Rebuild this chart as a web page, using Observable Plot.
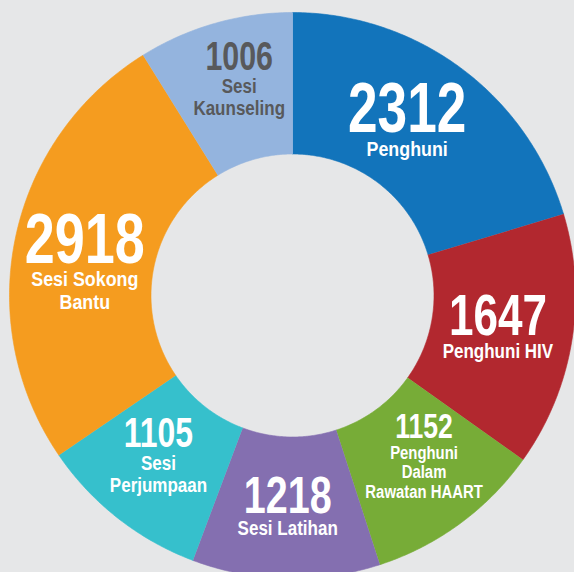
<!DOCTYPE html>
<html><head><meta charset="utf-8">
<script src="https://cdn.jsdelivr.net/npm/d3@7"></script>
<script src="https://cdn.jsdelivr.net/npm/@observablehq/plot@0.6"></script>
<style>
html,body{margin:0;padding:0;background:#e6e7e8;overflow:hidden}
#chart svg{display:block;background:#e6e7e8}
</style></head><body><div id="chart"></div>
<script>
// ---- data ----
const categories = ["Penghuni", "Penghuni HIV", "Penghuni Dalam Rawatan HAART", "Sesi Latihan", "Sesi Perjumpaan", "Sesi Sokong Bantu", "Sesi Kaunseling"];
const labelLines = [["Penghuni"], ["Penghuni HIV"], ["Penghuni", "Dalam", "Rawatan HAART"], ["Sesi Latihan"], ["Sesi", "Perjumpaan"], ["Sesi Sokong", "Bantu"], ["Sesi", "Kaunseling"]];
const values = [2312, 1647, 1152, 1218, 1105, 2918, 1006];

// ---- style ----
const sliceColors = ["#1274bb", "#b2282f", "#77ac37", "#846fb0", "#36c0cc", "#f59c1f", "#94b4de"];
const textColors = ["#ffffff", "#ffffff", "#ffffff", "#ffffff", "#ffffff", "#ffffff", "#58595b"];
const numberSizes = [70, 58, 35, 52, 42, 71, 40];
const labelSizes = [21, 20, 17.5, 20, 20, 21, 20];
// small label-block nudges (px) away from the arc centroid
const labelNudgeX = [-12, -4, 6, 0, -3, 0, 5];
const labelNudgeY = [-6, -4, -11, -2, -8, 9, -13];
const FONT = "'Liberation Sans',Arial,sans-serif";
const numberSqueeze = 0.76, labelSqueeze = 0.85;

const W = 574, H = 572;
const R = 283, cxPx = 292, cyPx = 295;   // outer radius & centre in px
const innerRatio = 0.5;

// ---- geometry from data ----
const total = d3.sum(values);
let acc = 0;
const slices = values.map((v, i) => {
  const a0 = acc / total * 2 * Math.PI;
  acc += v;
  const a1 = acc / total * 2 * Math.PI;
  return {i, name: categories[i], value: v, a0, a1, color: sliceColors[i]};
});

const ring = [];
for (const s of slices) {
  const n = Math.max(8, Math.ceil((s.a1 - s.a0) / (Math.PI / 360)));
  for (let k = 0; k <= n; k++) {
    const a = s.a0 + (s.a1 - s.a0) * k / n;
    ring.push({name: s.name, color: s.color, x: Math.sin(a), y: Math.cos(a)});
  }
  for (let k = n; k >= 0; k--) {
    const a = s.a0 + (s.a1 - s.a0) * k / n;
    ring.push({name: s.name, color: s.color, x: innerRatio * Math.sin(a), y: innerRatio * Math.cos(a)});
  }
}

// labels: block centred on arc centroid
const numberRows = [], labelRows = [];
const midR = (1 + innerRatio) / 2;
for (const s of slices) {
  const am = (s.a0 + s.a1) / 2;
  const cx = midR * Math.sin(am) + labelNudgeX[s.i] / R;
  const cy = midR * Math.cos(am) - labelNudgeY[s.i] / R;
  const ns = numberSizes[s.i], ls = labelSizes[s.i];
  const lines = labelLines[s.i];
  const capN = 0.72 * ns, capL = 0.72 * ls, gap = 8, lh = 1.1 * ls;
  const blockH = capN + gap + capL + (lines.length - 1) * lh;
  const top = -blockH / 2;
  numberRows.push({x: cx, y: cy - top / R, text: String(s.value), size: ns, color: textColors[s.i]});
  lines.forEach((t, j) => {
    const py = top + capN + gap + j * lh;
    labelRows.push({x: cx, y: cy - py / R, text: t, size: ls, color: textColors[s.i]});
  });
}

const chart = Plot.plot({
  width: W, height: H,
  margin: 0,
  style: {background: "#e6e7e8"},
  x: {domain: [-cxPx / R, (W - cxPx) / R], axis: null},
  y: {domain: [-(H - cyPx) / R, cyPx / R], axis: null},
  marks: [
    Plot.line(ring, {x: "x", y: "y", z: "name", fill: "color", stroke: "color", strokeWidth: 0.6, curve: "linear"}),
    Plot.text(numberRows, {x: "x", y: "y", text: "text", fontSize: "size", fill: "color", lineAnchor: "top", textAnchor: "middle", fontFamily: FONT, fontWeight: "bold"}),
    Plot.text(labelRows, {x: "x", y: "y", text: "text", fontSize: "size", fill: "color", lineAnchor: "top", textAnchor: "middle", fontFamily: FONT, fontWeight: "bold"})
  ]
});
document.getElementById("chart").appendChild(chart);

// condense the lettering (the original uses a condensed typeface)
function squeeze(group, s) {
  if (!group) return;
  group.querySelectorAll("text").forEach(t => {
    const len = t.getComputedTextLength();
    if (len > 0) {
      t.setAttribute("textLength", (len * s).toFixed(2));
      t.setAttribute("lengthAdjust", "spacingAndGlyphs");
    }
  });
}
const textGroups = chart.querySelectorAll("g[aria-label='text']");
squeeze(textGroups[0], numberSqueeze);
squeeze(textGroups[1], labelSqueeze);
</script></body></html>
